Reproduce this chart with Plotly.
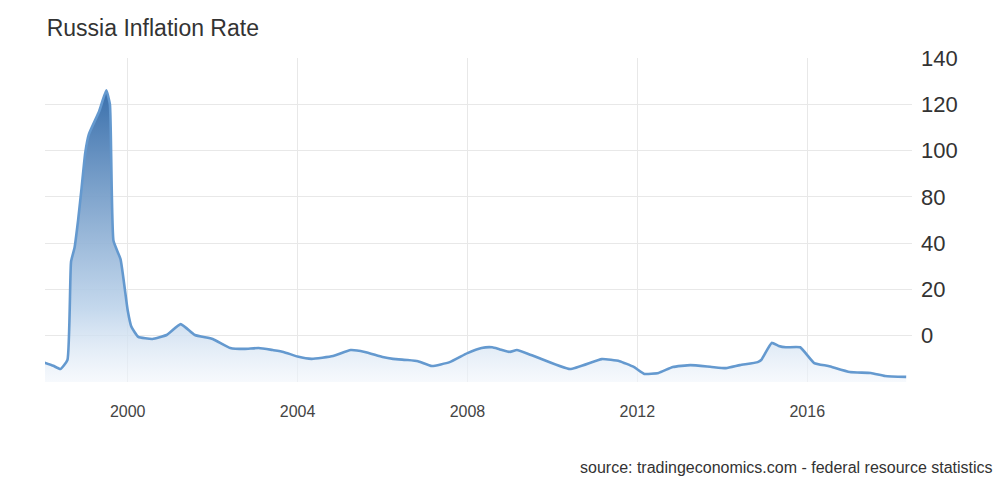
import plotly.graph_objects as go

# Russia inflation rate, yoy %
dates = [
    "1998-01", "1998-04", "1998-06", "1998-08", "1998-09", "1998-10", "1998-11", "1998-12",
    "1999-01", "1999-02", "1999-05", "1999-07", "1999-08", "1999-09", "1999-11",
    "2000-01", "2000-02", "2000-04", "2000-08", "2000-12",
    "2001-04", "2001-08", "2002-01", "2002-06", "2002-10",
    "2003-02", "2003-06", "2003-09", "2004-01", "2004-05", "2004-11",
    "2005-04", "2005-08", "2006-01", "2006-04", "2006-08", "2006-11",
    "2007-03", "2007-08", "2008-01", "2008-05", "2008-08", "2008-10",
    "2009-01", "2009-03", "2009-07", "2010-06", "2011-03", "2011-08", "2011-12",
    "2012-03", "2012-07", "2012-11", "2013-04", "2013-10", "2014-02", "2014-06",
    "2014-11", "2014-12", "2015-03", "2015-05", "2015-07", "2015-11",
    "2016-03", "2016-07", "2017-01", "2017-07", "2017-11", "2018-05",
]
inflation = [
    8.6, 7.0, 5.6, 9.5, 52, 58, 70, 84,
    99, 107, 117, 126, 120, 61, 53,
    31, 24, 19.5, 18.6, 20.3,
    25, 20.3, 18.6, 14.7, 14.3,
    14.7, 13.8, 13, 11, 10, 11.2,
    13.8, 13, 10.8, 10, 9.5, 9,
    6.9, 8.6, 12.5, 14.7, 15, 14.2,
    13, 13.8, 11.7, 5.6, 9.9, 9, 6.5,
    3.5, 3.9, 6.5, 7.3, 6.5, 6, 7.3,
    8.6, 9.5, 16.9, 15.6, 15, 15,
    8.2, 6.9, 4.3, 3.9, 2.6, 2.2,
]

# tick labels as printed on the original (they skip 60 and sit one step low)
y_tickvals = [0, 20, 40, 60, 80, 100, 120, 140]
y_ticktext = ["", "0", "20", "40", "80", "100", "120", "140"]
x_ticks = ["2000-01-01", "2004-01-01", "2008-01-01", "2012-01-01", "2016-01-01"]
x_ticktext = ["2000", "2004", "2008", "2012", "2016"]

fig = go.Figure()
fig.add_trace(go.Scatter(
    x=dates, y=inflation, mode="lines",
    line=dict(color="#6499cf", width=2.6, shape="spline", smoothing=0.4),
    fill="tozeroy",
    fillgradient=dict(
        type="vertical", start=0, stop=126,
        colorscale=[[0, "rgba(240,245,251,0.6)"], [0.25, "rgba(190,212,235,0.9)"],
                    [1, "rgba(58,112,172,1)"]],
    ),
    hoverinfo="skip",
))

# page body has an 8px margin, so the figure is sized to fit inside it
fig.update_layout(
    width=993, height=490,
    margin=dict(l=37, r=89, t=50, b=116),
    paper_bgcolor="white", plot_bgcolor="white",
    font=dict(family="Liberation Sans, Arial, sans-serif", color="#333"),
    showlegend=False,
    title=dict(text="Russia Inflation Rate", x=0.039, xanchor="left", y=0.959,
               yanchor="middle", font=dict(size=23, color="#333")),
    xaxis=dict(
        range=["1998-01-20", "2018-06-20"], tickvals=x_ticks, ticktext=x_ticktext,
        showgrid=True, gridcolor="#e8e8e8", gridwidth=1, zeroline=False,
        showline=False, ticks="", ticklabelstandoff=18,
        tickfont=dict(size=16, color="#444"),
    ),
    yaxis=dict(
        range=[0, 140], side="right", tickvals=y_tickvals, ticktext=y_ticktext,
        showgrid=True, gridcolor="#e8e8e8", gridwidth=1, zeroline=False,
        showline=False, ticks="", ticklabelstandoff=8,
        tickfont=dict(size=22, color="#333"),
    ),
)

fig.add_annotation(
    text="source: tradingeconomics.com - federal resource statistics",
    xref="paper", yref="paper", x=1.0957, y=-0.265, xanchor="right", yanchor="middle",
    showarrow=False, font=dict(size=16, color="#333"),
)

fig.write_html("out.html")
